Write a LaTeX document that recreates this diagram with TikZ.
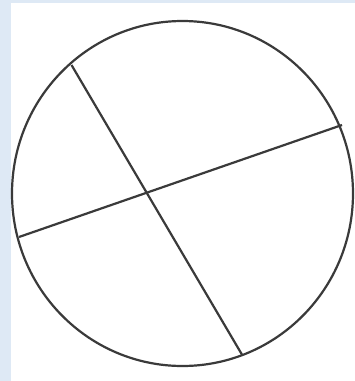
\documentclass[tikz,border=0pt]{standalone}
\definecolor{bgblue}{HTML}{DEE9F5}
\definecolor{linegray}{HTML}{3A3A3A}
\begin{document}
\begin{tikzpicture}[x=1pt,y=-1pt,
  stroke/.style={draw=linegray,line width=2.2pt}]
\fill[bgblue] (0,0) rectangle (355,381);
\useasboundingbox (0,0) rectangle (355,381);
\fill[white] (11,3) rectangle (355,381);
\draw[stroke] (182.5,193.5) ellipse [x radius=170.5, y radius=172.5];
\coordinate (a1) at (71.5,65);
\coordinate (a2) at (242.5,355.5);
\coordinate (b1) at (19,237);
\coordinate (b2) at (342,125);
\draw[stroke] (a1) -- (a2);
\draw[stroke] (b1) -- (b2);
\end{tikzpicture}
\end{document}
